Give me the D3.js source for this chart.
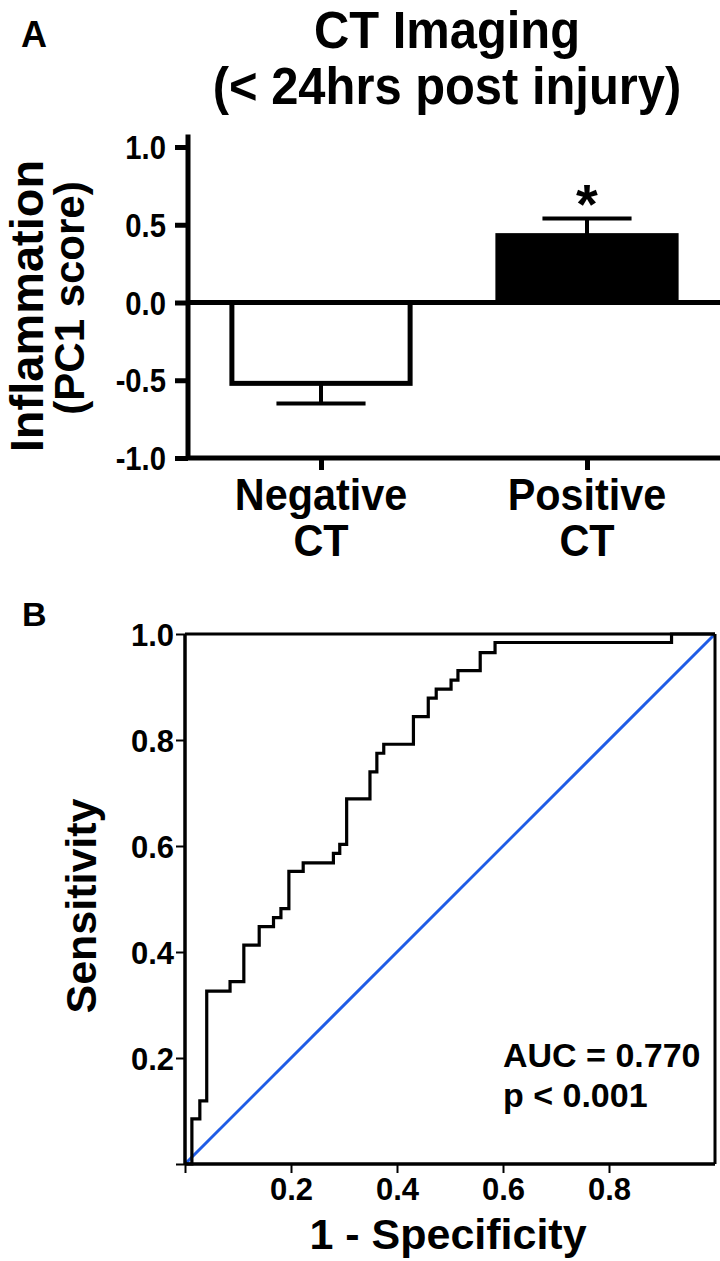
<!DOCTYPE html>
<html>
<head>
<meta charset="utf-8">
<script src="https://cdn.jsdelivr.net/npm/d3@7"></script>
<style>
  html, body { margin: 0; padding: 0; background: #fff; }
  svg { display: block; }
  text { font-family: "Liberation Sans", Arial, sans-serif; font-weight: bold; fill: #000; }
</style>
</head>
<body>
<svg id="chart" width="720" height="1261"></svg>
<script>
// ---------- Panel A data ----------
const categories = ["Negative CT", "Positive CT"];
const catLines = [["Negative", "CT"], ["Positive", "CT"]];
const means = [-0.52, 0.43];
const sems = [0.13, 0.11];
const significant = [false, true];
const yTicksA = [-1.0, -0.5, 0.0, 0.5, 1.0];

// ---------- Panel B data (ROC step corners) ----------
const rocFpr = [0, 0.013, 0.028, 0.041, 0.085, 0.111, 0.140, 0.167, 0.181, 0.196, 0.223, 0.280, 0.292, 0.305, 0.349, 0.362, 0.375, 0.431, 0.459, 0.474, 0.502, 0.515, 0.557, 0.585, 0.918, 1.0];
const rocTpr = [0, 0.085, 0.119, 0.326, 0.344, 0.413, 0.448, 0.465, 0.482, 0.552, 0.568, 0.586, 0.603, 0.689, 0.740, 0.775, 0.792, 0.844, 0.879, 0.896, 0.913, 0.931, 0.965, 0.984, 1.0, 1.0];
const refLine = [[0, 0], [1, 1]];
const xTicksB = [0.2, 0.4, 0.6, 0.8];
const yTicksB = [0.2, 0.4, 0.6, 0.8, 1.0];
const aucText = ["AUC = 0.770", "p < 0.001"];

const svg = d3.select("#chart");
const fmt1 = d => d.toFixed(1);

// condensed text helper (panel A text appears horizontally compressed)
function ctext(g, x, y, s, size, sx, anchor) {
  return g.append("text")
    .attr("transform", `translate(${x},${y}) scale(${sx},1)`)
    .attr("text-anchor", anchor || "start")
    .style("font-size", size + "px").text(s);
}

// ================= Panel A =================
const A = { left: 188, right: 720, top: 147, bottom: 458 };
const yA = d3.scaleLinear().domain([-1, 1]).range([A.bottom, A.top]);
const xA = d3.scalePoint().domain(categories).range([A.left, A.right]).padding(0.5);
const barW = xA.step() * 0.67;
const gA = svg.append("g");

// panel letter & title
gA.append("text").attr("x", 21).attr("y", 47).style("font-size", "36px").text("A");
ctext(gA, 447, 48, "CT Imaging", 52, 0.94, "middle");
ctext(gA, 447, 104, "(< 24hrs post injury)", 52, 0.94, "middle");

// bars
gA.selectAll("rect.bar").data(categories).join("rect")
  .attr("class", "bar")
  .attr("x", d => xA(d) - barW / 2)
  .attr("width", barW)
  .attr("y", (d, i) => yA(Math.max(0, means[i])))
  .attr("height", (d, i) => Math.abs(yA(means[i]) - yA(0)))
  .attr("fill", (d, i) => means[i] >= 0 ? "#000" : "#fff")
  .attr("stroke", "#000").attr("stroke-width", 5);

// error bars (one-sided, away from zero)
const capW = barW * 0.5;
categories.forEach((c, i) => {
  const tipV = means[i] + Math.sign(means[i]) * sems[i];
  gA.append("line").attr("x1", xA(c)).attr("x2", xA(c))
    .attr("y1", yA(means[i])).attr("y2", yA(tipV))
    .attr("stroke", "#000").attr("stroke-width", 4);
  gA.append("line").attr("x1", xA(c) - capW / 2).attr("x2", xA(c) + capW / 2)
    .attr("y1", yA(tipV)).attr("y2", yA(tipV))
    .attr("stroke", "#000").attr("stroke-width", 4);
  if (significant[i]) {
    gA.append("text").attr("x", xA(c)).attr("y", yA(tipV) + 4)
      .attr("text-anchor", "middle").style("font-size", "56px").text("*");
  }
});

// zero line
gA.append("line").attr("x1", A.left).attr("x2", A.right)
  .attr("y1", yA(0)).attr("y2", yA(0)).attr("stroke", "#000").attr("stroke-width", 5);

// y axis (ticks via d3 axis, labels condensed)
const yAxisA = d3.axisLeft(yA).tickValues(yTicksA).tickSize(13).tickFormat("");
const gyA = gA.append("g").attr("transform", `translate(${A.left},0)`).call(yAxisA);
gyA.select(".domain").remove();
gyA.selectAll(".tick line").attr("stroke", "#000").attr("stroke-width", 5);
gA.selectAll("text.ytickA").data(yTicksA).join("text")
  .attr("class", "ytickA")
  .attr("transform", d => `translate(${A.left - 22},${yA(d)}) scale(0.86,1)`)
  .attr("text-anchor", "end").attr("dy", "0.36em")
  .style("font-size", "34px").text(fmt1);
gA.append("line").attr("x1", A.left).attr("x2", A.left)
  .attr("y1", yA(1.08)).attr("y2", A.bottom + 2).attr("stroke", "#000").attr("stroke-width", 5);

// x axis
gA.append("line").attr("x1", A.left - 2).attr("x2", A.right)
  .attr("y1", A.bottom).attr("y2", A.bottom).attr("stroke", "#000").attr("stroke-width", 5);
const xAxisA = d3.axisBottom(xA).tickSize(12).tickFormat("");
const gxA = gA.append("g").attr("transform", `translate(0,${A.bottom})`).call(xAxisA);
gxA.select(".domain").remove();
gxA.selectAll(".tick line").attr("stroke", "#000").attr("stroke-width", 5);
categories.forEach((c, i) => {
  catLines[i].forEach((t, j) => {
    ctext(gA, xA(c), 510 + j * 46, t, 45, 0.92, "middle");
  });
});

// y label
gA.append("g").attr("transform", "translate(43,306) rotate(-90)")
  .append("text").attr("text-anchor", "middle").style("font-size", "47px").text("Inflammation");
gA.append("g").attr("transform", "translate(84,298) rotate(-90)")
  .append("text").attr("text-anchor", "middle").style("font-size", "42px").text("(PC1 score)");

// ================= Panel B =================
const B = { left: 185, right: 715, top: 634, bottom: 1164 };
const xB = d3.scaleLinear().domain([0, 1]).range([B.left, B.right]);
const yB = d3.scaleLinear().domain([0, 1]).range([B.bottom, B.top]);
const gB = svg.append("g");

gB.append("text").attr("x", 22).attr("y", 626).style("font-size", "34px").text("B");

// reference diagonal
gB.append("path").datum(refLine)
  .attr("d", d3.line().x(d => xB(d[0])).y(d => yB(d[1])))
  .attr("fill", "none").attr("stroke", "#1f5ce6").attr("stroke-width", 3);

// ROC curve
const rocPts = rocFpr.map((f, i) => [f, rocTpr[i]]);
gB.append("path").datum(rocPts)
  .attr("d", d3.line().x(d => xB(d[0])).y(d => yB(d[1])).curve(d3.curveStepAfter))
  .attr("fill", "none").attr("stroke", "#000").attr("stroke-width", 3.2);

// frame
gB.append("line").attr("x1", B.left).attr("x2", B.right).attr("y1", B.top).attr("y2", B.top).attr("stroke", "#000").attr("stroke-width", 3);
gB.append("line").attr("x1", B.right).attr("x2", B.right).attr("y1", B.top).attr("y2", B.bottom).attr("stroke", "#000").attr("stroke-width", 3);

// axes
const xAxisB = d3.axisBottom(xB).tickValues([0].concat(xTicksB)).tickSize(9).tickPadding(5)
  .tickFormat(d => d === 0 ? "" : fmt1(d));
const gxB = gB.append("g").attr("transform", `translate(0,${B.bottom})`).call(xAxisB);
gxB.select(".domain").attr("stroke", "#000").attr("stroke-width", 3.5).attr("d", `M${B.left},0H${B.right}`);
gxB.selectAll(".tick line").attr("stroke", "#000").attr("stroke-width", 2);
gxB.selectAll(".tick text").style("font-size", "31px").style("font-family", "'Liberation Sans', Arial, sans-serif").style("font-weight", "bold").attr("dy", "0.71em");

const yAxisB = d3.axisLeft(yB).tickValues([0].concat(yTicksB)).tickSize(9).tickPadding(2)
  .tickFormat(d => d === 0 ? "" : fmt1(d));
const gyB = gB.append("g").attr("transform", `translate(${B.left},0)`).call(yAxisB);
gyB.select(".domain").attr("stroke", "#000").attr("stroke-width", 3.5).attr("d", `M0,${B.bottom}V${B.top}`);
gyB.selectAll(".tick line").attr("stroke", "#000").attr("stroke-width", 2);
gyB.selectAll(".tick text").style("font-size", "31px").style("font-family", "'Liberation Sans', Arial, sans-serif").style("font-weight", "bold").attr("dy", "0.36em");

// axis titles
gB.append("text").attr("x", (B.left + B.right) / 2 - 2).attr("y", 1249).attr("text-anchor", "middle").style("font-size", "43px").text("1 - Specificity");
gB.append("g").attr("transform", "translate(96,906) rotate(-90)")
  .append("text").attr("text-anchor", "middle").style("font-size", "43px").text("Sensitivity");

// AUC annotation
aucText.forEach((t, i) => {
  gB.append("text").attr("x", 503).attr("y", 1067 + i * 40).style("font-size", "34px").text(t);
});
</script>
</body>
</html>
